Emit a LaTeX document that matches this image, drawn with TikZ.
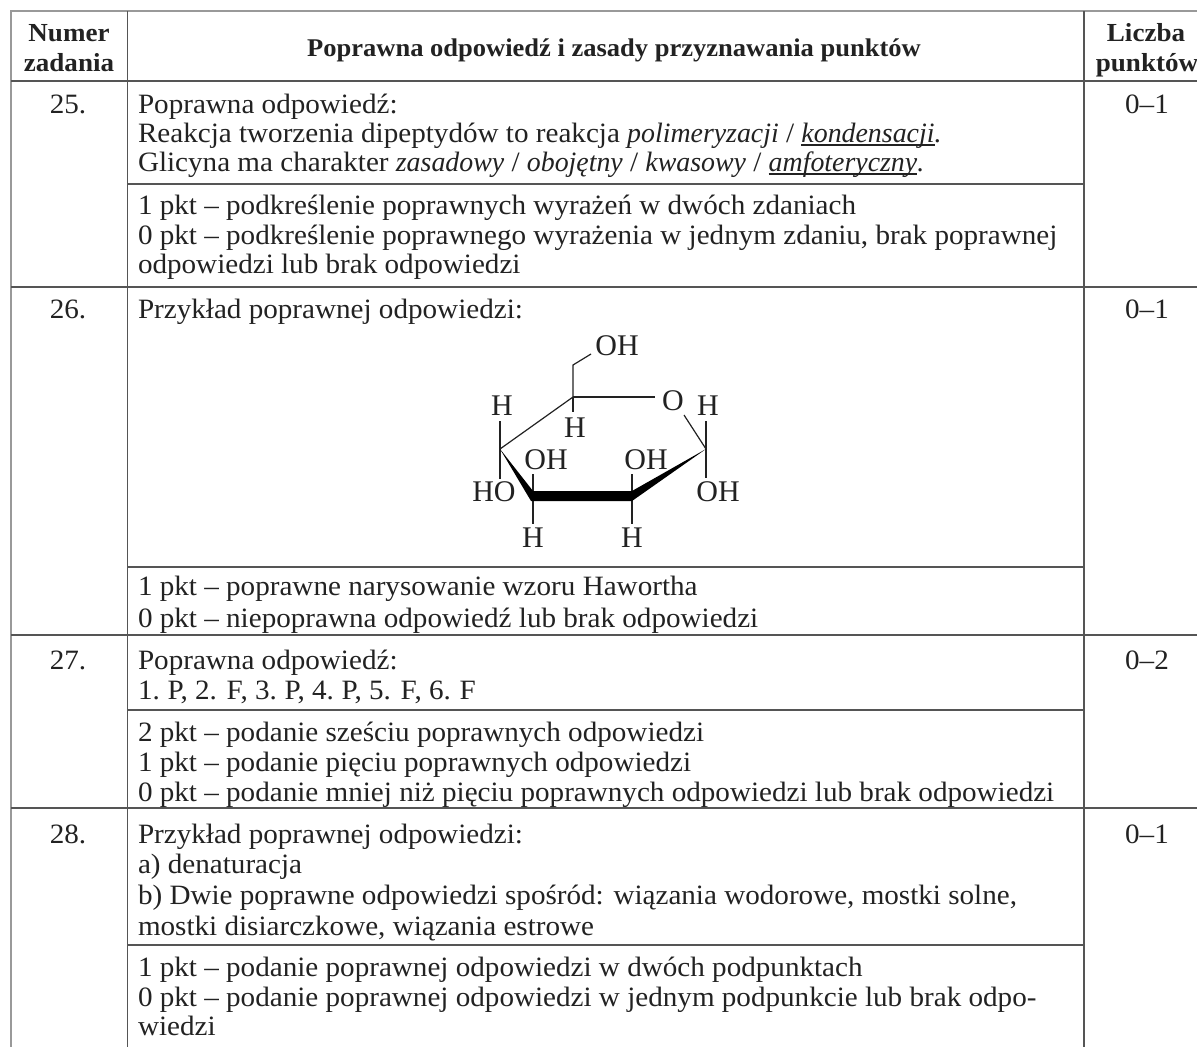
\documentclass[tikz,border=0pt]{standalone}
\usepackage{fontspec}
\setmainfont[FakeStretch=1.04]{Liberation Serif}
\newfontfamily\chemfont{Liberation Serif}
\newfontfamily\itf[FakeStretch=0.995]{Liberation Serif}
\definecolor{ink}{HTML}{222222}
\definecolor{outer}{HTML}{999999}
\definecolor{inner}{HTML}{555555}
\newcommand{\itx}[1]{{\itf\itshape #1}}
\newsavebox{\ulbox}
\newcommand{\ulit}[1]{\sbox{\ulbox}{\itx{#1}}\rlap{\rule[-3.5pt]{\wd\ulbox}{1.1pt}}\usebox{\ulbox}}
\tikzset{
  txt/.style={anchor=base west,inner sep=0pt,outer sep=0pt,text=ink,font=\fontsize{28}{30}\selectfont},
  ctr/.style={anchor=base,inner sep=0pt,outer sep=0pt,text=ink,font=\fontsize{28}{30}\selectfont},
  hdr/.style={anchor=base,inner sep=0pt,outer sep=0pt,text=ink,font=\fontsize{26}{28}\selectfont\bfseries},
  chem/.style={inner sep=0pt,outer sep=0pt,text=ink,font=\chemfont\fontsize{30}{32}\selectfont},
  outerline/.style={draw=outer,line width=2.4pt},
  innerline/.style={draw=inner,line width=1.2pt},
  bond/.style={draw=ink,line width=1.2pt},
  wedge/.style={fill=black,draw=none}
}
\begin{document}
\begin{tikzpicture}[x=1pt,y=-1pt]
\useasboundingbox (0,0) rectangle (1197,1047);
\fill[white] (0,0) rectangle (1197,1047);
% table frame
\draw[outerline] (11,1047) -- (11,11) -- (1197,11);
\draw[innerline] (127.5,11) -- (127.5,1047);
\draw[innerline] (1084,11) -- (1084,1047);
\draw[innerline] (11,81) -- (1197,81);
\draw[innerline] (127.5,184) -- (1084,184);
\draw[innerline] (11,287) -- (1197,287);
\draw[innerline] (127.5,567) -- (1084,567);
\draw[innerline] (11,635) -- (1197,635);
\draw[innerline] (127.5,710) -- (1084,710);
\draw[innerline] (11,808) -- (1197,808);
\draw[innerline] (127.5,945) -- (1084,945);
% header
\node[hdr] (h1) at (69,41) {Numer};
\node[hdr] (h2) at (69,71) {zadania};
\node[hdr,font=\fontsize{25.5}{28}\selectfont\bfseries] (h3) at (614,56) {Poprawna odpowiedź i zasady przyznawania punktów};
\node[hdr] (h4) at (1146,41) {Liczba};
\node[hdr] (h5) at (1147,71) {punktów};
% numbers
\node[ctr] (n25) at (68,113) {25.};
\node[ctr] (n26) at (68,318) {26.};
\node[ctr] (n27) at (68,669) {27.};
\node[ctr] (n28) at (68,843) {28.};
\node[ctr] (p25) at (1147,113) {0–1};
\node[ctr] (p26) at (1147,318) {0–1};
\node[ctr] (p27) at (1147,669) {0–2};
\node[ctr] (p28) at (1147,843) {0–1};
% row 25
\node[txt] (a1) at (138,113) {Poprawna odpowiedź:};
\node[txt] (a2) at (138,142) {Reakcja tworzenia dipeptydów to reakcja \itx{polimeryzacji} / \ulit{kondensacji}\itx{.}};
\node[txt] (a3) at (138,171) {Glicyna ma charakter \itx{zasadowy} / \itx{obojętny} / \itx{kwasowy} / \ulit{amfoteryczny}\itx{.}};
\node[txt] (a4) at (138,214) {1 pkt – podkreślenie poprawnych wyrażeń w dwóch zdaniach};
\node[txt] (a5) at (138,244) {0 pkt – podkreślenie poprawnego wyrażenia w jednym zdaniu, brak poprawnej};
\node[txt] (a6) at (138,273) {odpowiedzi lub brak odpowiedzi};
% row 26
\node[txt] (b1) at (138,318) {Przykład poprawnej odpowiedzi:};
\node[txt] (b2) at (138,595) {1 pkt – poprawne narysowanie wzoru Hawortha};
\node[txt] (b3) at (138,627) {0 pkt – niepoprawna odpowiedź lub brak odpowiedzi};
% row 27
\node[txt] (c1) at (138,669) {Poprawna odpowiedź:};
\node[txt] (c2) at (138,699) {1.\kern-2pt{} P, 2. F, 3.\kern-2pt{} P, 4.\kern-2pt{} P, 5. F, 6.\kern-1pt{} F};
\node[txt] (c3) at (138,741) {2 pkt – podanie sześciu poprawnych odpowiedzi};
\node[txt] (c4) at (138,771) {1 pkt – podanie pięciu poprawnych odpowiedzi};
\node[txt] (c5) at (138,801) {0 pkt – podanie mniej niż pięciu poprawnych odpowiedzi lub brak odpowiedzi};
% row 28
\node[txt] (d1) at (138,843) {Przykład poprawnej odpowiedzi:};
\node[txt] (d2) at (138,873) {a) denaturacja};
\node[txt] (d3) at (138,904) {b) Dwie poprawne odpowiedzi spośród: wiązania wodorowe, mostki solne,};
\node[txt] (d4) at (138,935) {mostki disiarczkowe, wiązania estrowe};
\node[txt] (d5) at (138,976) {1 pkt – podanie poprawnej odpowiedzi w dwóch podpunktach};
\node[txt] (d6) at (138,1006) {0 pkt – podanie poprawnej odpowiedzi w jednym podpunkcie lub brak odpo-};
\node[txt] (d7) at (138,1035) {wiedzi};
% sugar structure
\coordinate (C5) at (573,397);
\coordinate (C6) at (573,365);
\coordinate (C4) at (500,449);
\coordinate (C3) at (533,496);
\coordinate (C2) at (632,496);
\coordinate (C1) at (706,449);
\node[chem] (oh6) at (617,346) {OH};
\node[chem] (o) at (673,401) {O};
\node[chem] (h4t) at (502,406) {H};
\node[chem] (h5b) at (575,428) {H};
\node[chem] (h1t) at (708,406) {H};
\node[chem] (oh3) at (546,460) {OH};
\node[chem] (ho4) at (494,492) {HO};
\node[chem] (oh2) at (646,460) {OH};
\node[chem] (oh1) at (718,492) {OH};
\node[chem] (h3b) at (533,538) {H};
\node[chem] (h2b) at (632,538) {H};
\draw[bond] (C5) -- (C6) -- (591,354);
\draw[bond] (C5) -- (655,397);
\draw[bond] (C4) -- (C5);
\draw[bond] (684,415) -- (C1);
\draw[bond] (500,421) -- (C4) -- (500,479);
\draw[bond] (C5) -- (573,412);
\draw[bond] (706,421) -- (C1) -- (706,478);
\draw[bond] (533,474) -- (533,524);
\draw[bond] (632,474) -- (632,524);
\fill[wedge] (C4) -- (533,491) -- (632,491) -- (C1) -- (632,501) -- (531,501) -- cycle;
\end{tikzpicture}
\end{document}
